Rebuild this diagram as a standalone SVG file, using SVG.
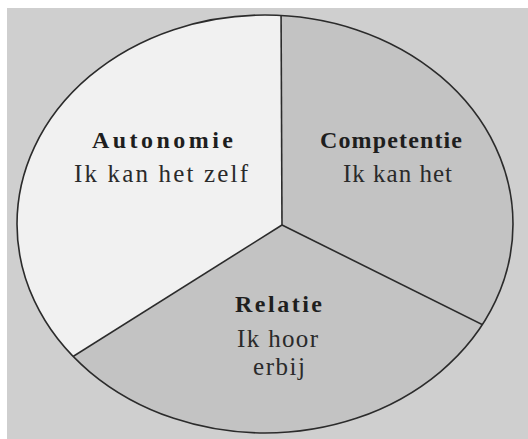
<svg xmlns="http://www.w3.org/2000/svg" width="528" height="439" viewBox="0 0 528 439">
<style>
.t{font-family:"Liberation Serif","DejaVu Serif",serif;fill:#1e1e1e;text-anchor:start}
.b{font-weight:bold;font-size:24px}
.n{font-size:25px;fill:#2a2a2a}
.edge{stroke:#2b2b2b;stroke-width:1.6;fill:none}
</style>
<defs>
<clipPath id="pie"><ellipse cx="265" cy="224" rx="248" ry="209"/></clipPath>
</defs>
<rect width="528" height="439" fill="#ffffff"/>
<rect x="7" y="8" width="521" height="431" fill="#cfcfcf"/>
<g clip-path="url(#pie)">
<g id="autonomie"><polygon points="282,225 281,-10 -50,-10 -50,434" fill="#f1f1f1"/></g>
<g id="competentie"><polygon points="282,225 281,-10 600,-10 600,383" fill="#c3c3c3"/></g>
<g id="relatie"><polygon points="282,225 -50,434 -50,600 600,600 600,383" fill="#c3c3c3"/></g>
</g>
<g id="connectors">
<g clip-path="url(#pie)">
<line class="edge" x1="282" y1="225" x2="281" y2="0"/>
<line class="edge" x1="282" y1="225" x2="-50" y2="434"/>
<line class="edge" x1="282" y1="225" x2="600" y2="383"/>
</g>
<ellipse class="edge" cx="265" cy="224" rx="248" ry="209" stroke-width="2"/>
</g>
<g id="labels-autonomie">
<text class="t b" x="92" y="148" textLength="141" lengthAdjust="spacing">Autonomie</text>
<text class="t n" x="74" y="182" textLength="174" lengthAdjust="spacing">Ik kan het zelf</text>
</g>
<g id="labels-competentie">
<text class="t b" x="320" y="148" textLength="142" lengthAdjust="spacing">Competentie</text>
<text class="t n" x="343" y="182" textLength="109" lengthAdjust="spacing">Ik kan het</text>
</g>
<g id="labels-relatie">
<text class="t b" x="235" y="312" textLength="87" lengthAdjust="spacing">Relatie</text>
<text class="t n" x="237" y="347" textLength="81" lengthAdjust="spacing">Ik hoor</text>
<text class="t n" x="253" y="375" textLength="52" lengthAdjust="spacing">erbij</text>
</g>
</svg>
